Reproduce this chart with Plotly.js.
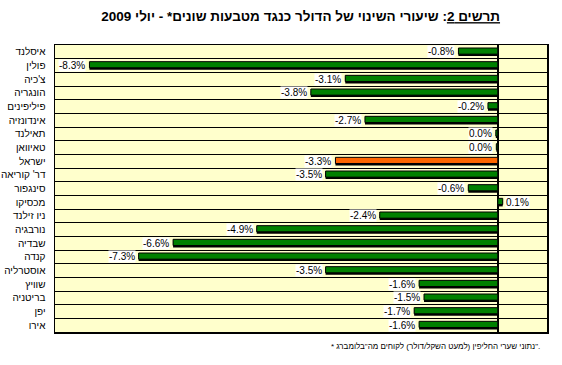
<!DOCTYPE html>
<html>
<head>
<meta charset="utf-8">
<script src="https://cdn.plot.ly/plotly-3.0.1.min.js"></script>
<style>html,body{margin:0;padding:0;background:#fff;}#chart{width:562px;height:365px;}</style>
</head>
<body>
<div id="chart"></div>
<script>
const categories = ["איסלנד","פולין","צ'כיה","הונגריה","פיליפינים","אינדונזיה","תאילנד","טאיוואן","ישראל","דר' קוריאה","סינגפור","מכסיקו","ניו זילנד","נורבגיה","שבדיה","קנדה","אוסטרליה","שוויץ","בריטניה","יפן","אירו"];
const changes = [-0.8,-8.3,-3.1,-3.8,-0.2,-2.7,-0.04,-0.03,-3.3,-3.5,-0.6,0.1,-2.4,-4.9,-6.6,-7.3,-3.5,-1.6,-1.5,-1.7,-1.6];
const highlight = "ישראל";
const titleText = "<u>תרשים 2</u>: שיעורי השינוי של הדולר כנגד מטבעות שונים* - יולי 2009";
const footnote = "* נתוני שערי החליפין (למעט השקל/דולר) לקוחים מה\"בלומברג\".";

const colors = categories.map(c => c === highlight ? "#FF6600" : "#008000");
const font = "Liberation Sans, Arial, sans-serif";

const shadow = {
  type: "bar", orientation: "h", x: changes, y: categories,
  width: 0.45, offset: -0.14,
  marker: {color: "#000000", line: {width: 0}},
  hoverinfo: "skip", showlegend: false
};
const bars = {
  type: "bar", orientation: "h", x: changes, y: categories,
  width: 0.45, offset: -0.28,
  marker: {color: colors, line: {color: "#000000", width: 1}},
  showlegend: false
};

const annotations = changes.map((v, i) => ({
  x: v, y: categories[i], xref: "x", yref: "y",
  text: (Math.round(v * 10) / 10).toFixed(1) + "%",
  showarrow: false,
  xanchor: v > 0 ? "left" : "right",
  xshift: v > 0 ? 2 : -3,
  yshift: 0,
  bgcolor: "#FFFFFF", borderpad: 0,
  font: {family: font, size: 10, color: "#000000"}
}));
annotations.push({
  xref: "paper", yref: "paper", x: 0.99, y: -0.052,
  xanchor: "right", yanchor: "middle", showarrow: false,
  text: footnote, font: {family: font, size: 8, color: "#000000"}
});

const layout = {
  width: 562, height: 365,
  margin: {l: 55, r: 15, t: 45, b: 33},
  paper_bgcolor: "#FFFFFF", plot_bgcolor: "#FFFFCC",
  barmode: "overlay",
  title: {text: titleText, x: 0.535, xanchor: "center", y: 0.955, yanchor: "middle",
          font: {family: font, size: 13.5, color: "#000000", weight: "bold"}},
  xaxis: {range: [-9, 1], showticklabels: false, ticks: "", showgrid: false,
          zeroline: true, zerolinecolor: "#000000", zerolinewidth: 1.5,
          showline: true, linecolor: "#000000", linewidth: 1.5, mirror: true, fixedrange: true},
  yaxis: {type: "category", autorange: "reversed", tickson: "boundaries",
          showgrid: true, gridcolor: "#000000", gridwidth: 1, ticks: "",
          ticklabelstandoff: 6,
          tickfont: {family: font, size: 10, color: "#000000"},
          showline: true, linecolor: "#000000", linewidth: 1.5, mirror: true, fixedrange: true},
  annotations: annotations,
  bargap: 0.5
};

Plotly.newPlot("chart", [shadow, bars], layout, {displayModeBar: false, staticPlot: true});
</script>
</body>
</html>
